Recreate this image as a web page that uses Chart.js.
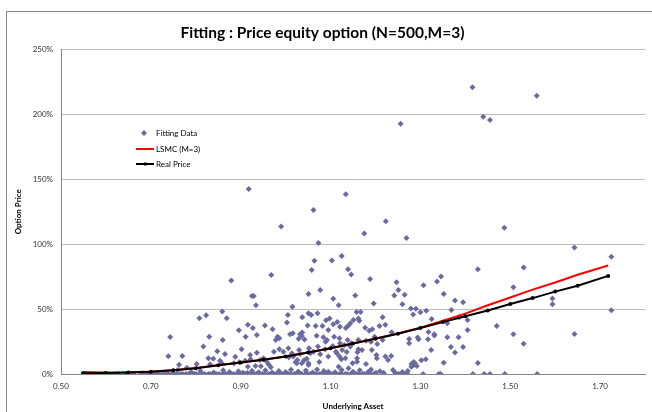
<!DOCTYPE html>
<html lang="en">
<head>
<meta charset="UTF-8">
<title>Fitting : Price equity option</title>
<script src="https://cdn.jsdelivr.net/npm/chart.js"></script>
<style>
  body { margin: 0; padding: 0; background: #fff; }
  #wrap { width: 652px; height: 412px; }
</style>
</head>
<body>
<div id="wrap"><canvas id="fitChart" width="652" height="412"></canvas></div>
<script>
// axis ticks
const xTicks = [0.5, 0.7, 0.9, 1.1, 1.3, 1.5, 1.7];
const yTicks = [0, 0.5, 1, 1.5, 2, 2.5];

// Fitting Data (underlying asset, option price)
const fitX = [
  1.416, 1.559, 1.440, 1.455, 1.256, 0.918, 1.134, 1.062, 1.223, 0.990,
  1.487, 1.175, 1.269, 1.073, 1.643, 1.725, 1.125, 1.103, 1.064, 1.530,
  1.428, 1.139, 1.058, 1.146, 0.968, 1.346, 1.188, 0.879, 1.337, 1.247,
  1.307, 1.507, 1.251, 1.077, 1.352, 1.051, 1.265, 1.242, 1.155, 0.925,
  0.929, 1.594, 1.106, 1.377, 1.395, 1.196, 1.594, 1.260, 1.118, 0.934,
  1.015, 1.279, 1.290, 1.369, 1.725, 1.313, 0.859, 1.158, 1.167, 1.300,
  1.051, 1.071, 1.284, 1.005, 0.823, 1.057, 1.037, 1.386, 1.216, 0.808,
  0.869, 1.098, 1.162, 1.151, 1.325, 1.090, 1.405, 1.164, 1.115, 1.003,
  1.144, 1.360, 1.106, 1.222, 0.916, 0.954, 1.049, 1.067, 1.082, 1.140,
  1.121, 1.209, 1.470, 1.134, 1.177, 0.927, 0.971, 1.193, 1.095, 1.405,
  0.896, 1.186, 1.318, 1.236, 1.016, 1.037, 1.643, 1.032, 1.010, 1.331,
  1.507, 0.936, 1.069, 1.036, 1.331, 0.911, 0.982, 0.830, 1.084, 1.108,
  1.198, 0.743, 1.360, 1.385, 1.294, 0.986, 1.120, 1.275, 1.042, 1.317,
  1.296, 1.029, 0.978, 1.092, 1.138, 0.860, 1.162, 1.216, 1.179, 1.089,
  1.190, 1.121, 1.146, 1.275, 1.530, 1.204, 1.131, 1.105, 0.817, 1.072,
  1.144, 1.368, 1.395, 1.052, 1.006, 0.902, 0.986, 1.088, 1.162, 1.030,
  1.126, 1.170, 1.192, 1.324, 0.848, 0.974, 0.995, 1.062, 1.112, 1.136,
  1.377, 1.160, 0.936, 1.014, 1.055, 1.114, 0.865, 1.032, 1.077, 0.921,
  1.202, 0.770, 0.739, 1.235, 0.888, 1.017, 1.095, 1.120, 1.222, 1.007,
  0.828, 0.951, 1.133, 1.159, 1.203, 0.839, 1.047, 1.312, 0.922, 1.124,
  0.943, 1.026, 1.228, 1.302, 0.854, 0.910, 1.041, 0.958, 1.159, 1.285,
  1.075, 0.897, 1.022, 1.352, 1.428, 0.885, 0.858, 1.025, 1.036, 1.051,
  1.149, 1.288, 0.802, 1.179, 1.280, 0.832, 0.962, 0.763, 1.051, 1.285,
  1.292, 0.933, 0.945, 0.916, 1.118, 1.280, 0.967, 0.780, 1.140, 0.760,
  1.239,
  // near zero
  1.095, 1.184, 1.201, 1.218, 1.244, 0.790, 0.810, 0.840, 0.861, 0.875,
  0.895, 0.905, 0.925, 0.940, 0.955, 0.970, 0.985, 1.000, 1.012, 1.028,
  1.045, 1.060, 1.070, 1.085, 1.110, 1.125, 1.150, 1.165, 1.190, 1.210,
  1.260, 1.272, 1.186, 1.030, 0.915,
  // at zero
  0.556, 0.597, 0.627, 0.645, 0.662, 0.678, 0.688, 0.697, 0.705, 0.713,
  0.719, 0.727, 0.734, 0.739, 0.747, 0.753, 0.758, 0.766, 0.771, 0.778,
  0.784, 0.789, 0.797, 0.801, 0.809, 0.816, 0.820, 0.828, 0.833, 0.841,
  0.846, 0.852, 0.860, 0.866, 0.871, 0.879, 0.884, 0.891, 0.898, 0.903,
  0.911, 0.917, 0.922, 0.930, 0.935, 0.941, 0.949, 0.953, 0.961, 0.966,
  0.974, 0.979, 0.987, 0.992, 0.998, 1.006, 1.011, 1.019, 1.023, 1.031,
  1.036, 1.044, 1.049, 1.055, 1.063, 1.068, 1.076, 1.080, 1.088, 1.093,
  1.101, 1.106, 1.112, 1.120, 1.125, 1.133, 1.137, 1.145, 1.150, 1.158,
  1.163, 1.171, 1.175, 1.183, 1.188, 1.196, 1.201, 1.219, 1.245, 1.252,
  1.258, 1.265, 1.271, 1.306, 1.341, 1.345, 1.417, 1.442, 1.455, 1.488,
  1.560
];
const fitY = [
  2.210, 2.145, 1.983, 1.957, 1.929, 1.425, 1.385, 1.263, 1.178, 1.137,
  1.127, 1.083, 1.049, 1.010, 0.975, 0.903, 0.910, 0.874, 0.872, 0.820,
  0.808, 0.808, 0.802, 0.766, 0.762, 0.751, 0.733, 0.720, 0.712, 0.708,
  0.684, 0.669, 0.648, 0.648, 0.617, 0.617, 0.610, 0.604, 0.604, 0.602,
  0.602, 0.581, 0.579, 0.566, 0.553, 0.544, 0.538, 0.538, 0.530, 0.530,
  0.519, 0.504, 0.502, 0.494, 0.491, 0.488, 0.481, 0.478, 0.478, 0.476,
  0.468, 0.468, 0.458, 0.455, 0.453, 0.455, 0.438, 0.437, 0.437, 0.430,
  0.430, 0.428, 0.427, 0.417, 0.424, 0.414, 0.417, 0.411, 0.400, 0.396,
  0.391, 0.391, 0.383, 0.380, 0.380, 0.373, 0.373, 0.370, 0.370, 0.373,
  0.364, 0.370, 0.370, 0.355, 0.357, 0.355, 0.345, 0.345, 0.340, 0.339,
  0.337, 0.334, 0.323, 0.322, 0.314, 0.319, 0.309, 0.307, 0.306, 0.307,
  0.306, 0.301, 0.295, 0.293, 0.296, 0.288, 0.288, 0.288, 0.283, 0.288,
  0.288, 0.285, 0.283, 0.283, 0.281, 0.275, 0.275, 0.270, 0.265, 0.268,
  0.268, 0.272, 0.262, 0.262, 0.262, 0.262, 0.262, 0.262, 0.257, 0.249,
  0.249, 0.237, 0.237, 0.237, 0.234, 0.231, 0.224, 0.216, 0.211, 0.211,
  0.211, 0.208, 0.208, 0.198, 0.198, 0.191, 0.191, 0.191, 0.191, 0.185,
  0.185, 0.185, 0.185, 0.185, 0.175, 0.172, 0.172, 0.172, 0.172, 0.170,
  0.166, 0.167, 0.164, 0.160, 0.160, 0.160, 0.154, 0.154, 0.152, 0.147,
  0.147, 0.139, 0.137, 0.139, 0.133, 0.134, 0.134, 0.134, 0.134, 0.129,
  0.121, 0.121, 0.121, 0.121, 0.121, 0.118, 0.118, 0.114, 0.113, 0.113,
  0.108, 0.108, 0.108, 0.106, 0.103, 0.103, 0.106, 0.095, 0.095, 0.093,
  0.093, 0.090, 0.090, 0.087, 0.085, 0.083, 0.083, 0.082, 0.082, 0.082,
  0.082, 0.082, 0.077, 0.077, 0.077, 0.075, 0.075, 0.072, 0.069, 0.069,
  0.062, 0.062, 0.059, 0.056, 0.056, 0.056, 0.052, 0.049, 0.044, 0.031,
  0.031,
  // near zero
  0.018, 0.018, 0.010, 0.010, 0.010, 0.015, 0.025, 0.012, 0.028, 0.016,
  0.022, 0.010, 0.026, 0.014, 0.029, 0.011, 0.024, 0.015, 0.032, 0.019,
  0.027, 0.012, 0.035, 0.024, 0.014, 0.030, 0.017, 0.028, 0.034, 0.022,
  0.016, 0.024, 0.010, 0.008, 0.007,
  // at zero
  0, 0, 0, 0, 0, 0, 0, 0, 0, 0,
  0, 0, 0, 0, 0, 0, 0, 0, 0, 0,
  0, 0, 0, 0, 0, 0, 0, 0, 0, 0,
  0, 0, 0, 0, 0, 0, 0, 0, 0, 0,
  0, 0, 0, 0, 0, 0, 0, 0, 0, 0,
  0, 0, 0, 0, 0, 0, 0, 0, 0, 0,
  0, 0, 0, 0, 0, 0, 0, 0, 0, 0,
  0, 0, 0, 0, 0, 0, 0, 0, 0, 0,
  0, 0, 0, 0, 0, 0, 0, 0, 0, 0,
  0, 0, 0, 0, 0, 0, 0, 0, 0, 0,
  0
];

// LSMC (M=3) regression curve
const lsmcX = [0.549, 0.60, 0.65, 0.70, 0.75, 0.80, 0.85, 0.90, 0.95, 1.00, 1.05, 1.10, 1.15, 1.20, 1.25, 1.30, 1.35, 1.40, 1.45, 1.50, 1.55, 1.60, 1.65, 1.718];
const lsmcY = [0.016, 0.012, 0.013, 0.019, 0.029, 0.046, 0.068, 0.088, 0.110, 0.135, 0.165, 0.198, 0.235, 0.273, 0.312, 0.357, 0.410, 0.465, 0.530, 0.590, 0.650, 0.705, 0.765, 0.836];

// Real Price
const realX = [0.549, 0.60, 0.65, 0.70, 0.75, 0.80, 0.85, 0.90, 0.95, 1.00, 1.05, 1.10, 1.15, 1.20, 1.25, 1.30, 1.35, 1.40, 1.45, 1.50, 1.55, 1.60, 1.65, 1.718];
const realY = [0.005, 0.008, 0.012, 0.018, 0.028, 0.045, 0.068, 0.088, 0.110, 0.135, 0.165, 0.198, 0.235, 0.272, 0.310, 0.355, 0.400, 0.445, 0.490, 0.540, 0.585, 0.635, 0.680, 0.756];

const pairs = (xs, ys) => xs.map((x, i) => ({ x: x, y: ys[i] }));

const fitColor = '#6A6AA0';
const tickFont = { family: 'Lato', size: 8 };
const axisTitleFont = { family: 'Lato', size: 8, weight: 'bold' };

// frame around the whole chart
const framePlugin = {
  id: 'frame',
  beforeDraw(chart) {
    const ctx = chart.ctx;
    ctx.save();
    ctx.fillStyle = '#fff';
    ctx.fillRect(0, 0, chart.width, chart.height);
    ctx.strokeStyle = '#868686';
    ctx.lineWidth = 1;
    ctx.strokeRect(6.5, 11.5, 700, 500);
    ctx.restore();
  }
};

// legend drawn inside the plot, upper left
const insideLegend = {
  id: 'insideLegend',
  afterDraw(chart) {
    const ctx = chart.ctx;
    const ds = chart.data.datasets;
    const x0 = 136, tx = 156;
    const rows = [133, 149, 164];
    ctx.save();
    ctx.font = '8px Lato';
    ctx.textBaseline = 'middle';
    // Fitting Data
    ctx.fillStyle = fitColor;
    ctx.beginPath();
    ctx.moveTo(144, rows[0] - 3);
    ctx.lineTo(147, rows[0]);
    ctx.lineTo(144, rows[0] + 3);
    ctx.lineTo(141, rows[0]);
    ctx.closePath();
    ctx.fill();
    // LSMC
    ctx.strokeStyle = ds[1].borderColor;
    ctx.lineWidth = 2;
    ctx.beginPath();
    ctx.moveTo(x0, rows[1]);
    ctx.lineTo(x0 + 18, rows[1]);
    ctx.stroke();
    // Real Price
    ctx.strokeStyle = ds[2].borderColor;
    ctx.beginPath();
    ctx.moveTo(x0, rows[2]);
    ctx.lineTo(x0 + 18, rows[2]);
    ctx.stroke();
    ctx.fillStyle = '#000';
    ctx.fillRect(x0 + 8, rows[2] - 1.5, 2.5, 3);
    ds.forEach((d, i) => {
      ctx.fillStyle = '#000';
      ctx.fillText(d.label, tx, rows[i]);
    });
    ctx.restore();
  }
};

new Chart(document.getElementById('fitChart'), {
  type: 'scatter',
  data: {
    datasets: [
      {
        label: 'Fitting Data',
        data: pairs(fitX, fitY),
        pointStyle: 'rectRot',
        pointRadius: 3,
        backgroundColor: fitColor,
        borderColor: fitColor,
        borderWidth: 0,
        order: 3
      },
      {
        label: 'LSMC (M=3)',
        data: pairs(lsmcX, lsmcY),
        showLine: true,
        borderColor: '#FF0000',
        borderWidth: 2,
        pointRadius: 0,
        order: 2
      },
      {
        label: 'Real Price',
        data: pairs(realX, realY),
        showLine: true,
        borderColor: '#000000',
        backgroundColor: '#000000',
        borderWidth: 2,
        pointRadius: 1,
        order: 1
      }
    ]
  },
  options: {
    responsive: false,
    animation: false,
    layout: { padding: { left: 0, right: 7, top: 0, bottom: 0 } },
    plugins: {
      legend: { display: false },
      tooltip: { enabled: false },
      title: {
        display: true,
        text: 'Fitting : Price equity option (N=500,M=3)',
        color: '#000',
        font: { family: 'Lato', size: 15.5, weight: 'bold' },
        padding: { top: 24, bottom: 7 }
      }
    },
    scales: {
      x: {
        type: 'linear',
        min: 0.5,
        max: 1.8,
        afterBuildTicks: s => { s.ticks = xTicks.map(v => ({ value: v })); },
        afterFit: s => { s.height = 38; },
        grid: { display: false, drawTicks: false },
        border: { color: '#868686' },
        ticks: {
          color: '#333',
          font: tickFont,
          padding: 8,
          maxRotation: 0,
          autoSkip: false,
          callback: v => Number(v).toFixed(2)
        },
        title: {
          display: true,
          text: 'Underlying Asset',
          color: '#000',
          font: axisTitleFont,
          padding: { top: 0, bottom: 1 }
        }
      },
      y: {
        min: 0,
        max: 2.5,
        afterBuildTicks: s => { s.ticks = yTicks.map(v => ({ value: v })); },
        afterFit: s => { s.width = 61; },
        grid: { color: '#BDBDBD', drawTicks: false },
        border: { color: '#868686' },
        ticks: {
          color: '#333',
          font: tickFont,
          padding: 8,
          autoSkip: false,
          callback: v => Math.round(v * 100) + '%'
        },
        title: {
          display: true,
          text: 'Option Price',
          color: '#000',
          font: axisTitleFont,
          padding: { top: 14, bottom: 0 }
        }
      }
    }
  },
  plugins: [framePlugin, insideLegend]
});
</script>
</body>
</html>
